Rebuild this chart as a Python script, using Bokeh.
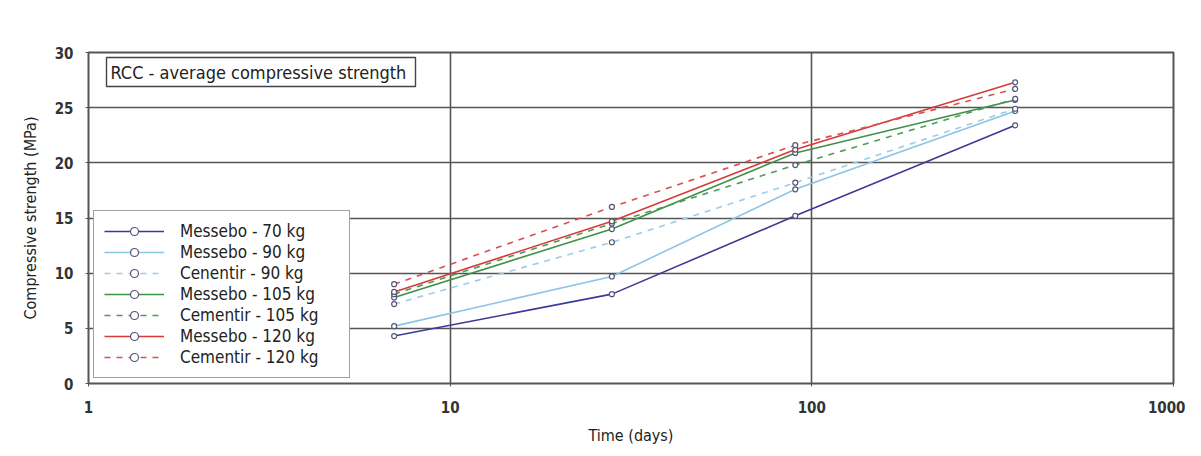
from bokeh.plotting import figure
from bokeh.models import Legend, LegendItem, FixedTicker, Label
from bokeh.embed import file_html
from bokeh.resources import INLINE

days = [7, 28, 90, 365]
series_names = ["Messebo - 70 kg", "Messebo - 90 kg", "Cenentir - 90 kg", "Messebo - 105 kg",
                "Cementir - 105 kg", "Messebo - 120 kg", "Cementir - 120 kg"]
messebo_70 = [4.3, 8.1, 15.2, 23.4]
messebo_90 = [5.2, 9.7, 17.6, 24.7]
cementir_90 = [7.2, 12.8, 18.2, 24.9]
messebo_105 = [7.8, 14.0, 20.9, 25.7]
cementir_105 = [8.1, 14.5, 19.8, 25.8]
messebo_120 = [8.3, 14.7, 21.2, 27.3]
cementir_120 = [9.0, 16.0, 21.6, 26.7]
values = [messebo_70, messebo_90, cementir_90, messebo_105, cementir_105, messebo_120, cementir_120]
x_ticks = [1, 10, 100, 1000]
y_ticks = [0, 5, 10, 15, 20, 25, 30]

colors = ["#3c3a96", "#8cc4e6", "#9ccbe8", "#3f9146", "#4f9a55", "#d63a3a", "#d85050"]
dashes = ["solid", "solid", "dashed", "solid", "dashed", "solid", "dashed"]

FONT = "DejaVu Sans Condensed"

p = figure(width=1185, height=448, x_axis_type="log", x_range=(1, 1000), y_range=(0, 30),
           output_backend="svg", toolbar_location=None,
           min_border_left=88, min_border_right=12, min_border_top=52, min_border_bottom=65)
p.background_fill_color = "white"
p.border_fill_color = "white"
p.outline_line_color = "#555555"
p.outline_line_width = 2

p.xaxis.ticker = FixedTicker(ticks=x_ticks, minor_ticks=[])
p.yaxis.ticker = FixedTicker(ticks=y_ticks, minor_ticks=[])
p.xaxis.major_label_overrides = {1: "1", 10: "10", 100: "100", 1000: "1000"}
p.xgrid.grid_line_color = "#555555"
p.xgrid.grid_line_width = 1.6
p.ygrid.grid_line_color = "#555555"
p.ygrid.grid_line_width = 1.6
for ax in (p.xaxis, p.yaxis):
    ax.axis_line_color = None
    ax.major_tick_line_color = "#555555"
    ax.major_tick_in = 0
    ax.major_tick_out = 3
    ax.minor_tick_line_color = None
    ax.major_label_text_font = FONT
    ax.major_label_text_font_size = "15px"
    ax.major_label_text_font_style = "bold"
    ax.major_label_text_color = "#333333"
    ax.axis_label_text_font = FONT
    ax.axis_label_text_font_size = "16px"
    ax.axis_label_text_font_style = "normal"
    ax.axis_label_text_color = "#222222"
p.xaxis.axis_label = "Time (days)"
p.yaxis.axis_label = "Compressive strength (MPa)"
p.xaxis.major_label_standoff = 14
p.xaxis.axis_label_standoff = 10
p.yaxis.major_label_standoff = 12
p.yaxis.axis_label_standoff = 12

items = []
for name, vals, c, d in zip(series_names, values, colors, dashes):
    r1 = p.line(days, vals, line_color=c, line_width=1.6, line_dash=d)
    r2 = p.scatter(days, vals, marker="circle", size=5, line_color="#555577", line_width=1.2,
                   fill_color="white")
    items.append(LegendItem(label=name, renderers=[r1, r2]))

legend = Legend(items=items, location="bottom_left")
legend.label_text_font = FONT
legend.label_text_font_size = "17px"
legend.label_text_color = "#222222"
legend.border_line_color = "#444444"
legend.border_line_width = 1.2
legend.background_fill_alpha = 1.0
legend.glyph_width = 60
legend.glyph_height = 20
legend.label_height = 20
legend.label_width = 159
legend.spacing = 1
legend.padding = 10
legend.margin = 5
legend.label_standoff = 16
p.add_layout(legend)

title = Label(x=18, y=297, x_units="screen", y_units="screen", text="RCC - average compressive  strength",
              text_font=FONT, text_font_size="18px", text_color="#222222",
              border_line_color="#444444", border_line_width=1.4, background_fill_color="white",
              padding=4)
p.add_layout(title)

open("out.html", "w").write(file_html(p, INLINE))
